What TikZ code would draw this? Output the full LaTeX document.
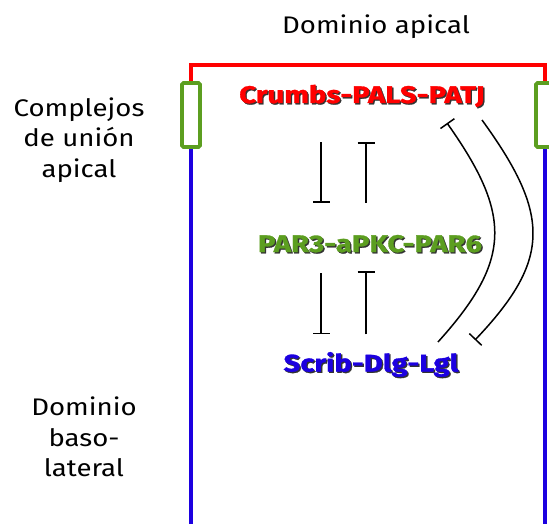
\documentclass[tikz,border=0pt]{standalone}
\usepackage{fontspec}
\setmainfont{Fira Sans}[FakeStretch=1.15,BoldFeatures={FakeStretch=1.22,FakeBold=1.2}]
\usetikzlibrary{arrows.meta}

\definecolor{apired}{RGB}{255,0,0}
\definecolor{junctgreen}{RGB}{92,158,32}
\definecolor{basoblue}{RGB}{28,0,224}

% bold complex name with a small dark drop shadow
\newcommand\shadowtext[2]{%
  \makebox[0pt][l]{\hspace{1.3pt}\raisebox{-1.3pt}{\textcolor{black!80}{#2}}}%
  \textcolor{#1}{#2}}

\begin{document}
\begin{tikzpicture}[x=1pt,y=-1pt,
  membrane/.style={line width=3.6pt},
  junction/.style={junctgreen,line width=3.6pt,rounded corners=1.5pt},
  inhib/.style={-{Bar[width=17pt]},line width=1.5pt},
  sidelabel/.style={font=\fontsize{24}{30.5}\selectfont,align=center,inner sep=0pt},
  complex/.style={font=\bfseries\fontsize{24}{30}\selectfont,inner sep=0pt,
                  text height=18pt,text depth=5pt}]
\useasboundingbox (0,0) rectangle (549,524);
\clip (0,0) rectangle (549,524);

% cell outline: apical (red) and basolateral (blue) membranes
\draw[apired,membrane] (191,84) |- (545,65) -- (545,84);
\draw[basoblue,membrane] (191,146) -- (191,530);
\draw[basoblue,membrane] (545,146) -- (545,530);
% apical junctional complexes
\draw[junction] (182,83) rectangle (200,147);
\draw[junction] (536,83) rectangle (556,147);

% labels
\node[sidelabel] (apical) at (376,27) {Dominio apical};
\node[sidelabel] (ajc) at (79,140) {Complejos\\de unión\\apical};
\node[sidelabel] (baso) at (84,437) {Dominio\\baso-\\lateral};

% polarity complexes
\node[complex] (crumbs) at (362,96.5) {\shadowtext{apired}{Crumbs-PALS-PATJ}};
\node[complex] (par) at (370,245.5) {\shadowtext{junctgreen}{PAR3-aPKC-PAR6}};
\node[complex] (scrib) at (371,365) {\shadowtext{basoblue}{Scrib-Dlg-Lgl}};

% columns for the straight inhibition links
\coordinate (colA) at (321,0);
\coordinate (colB) at (366,0);

\draw[inhib,shorten <=34pt,shorten >=31pt] (crumbs.south -| colA) -- (par.north -| colA);
\draw[inhib,shorten <=31pt,shorten >=34pt] (par.north -| colB) -- (crumbs.south -| colB);
\draw[inhib,shorten <=16pt,shorten >=19pt] (par.south -| colA) -- (scrib.north -| colA);
\draw[inhib,shorten <=19pt,shorten >=14pt] (scrib.north -| colB) -- (par.south -| colB);

% long-range mutual inhibition between Crumbs and Scrib complexes
\coordinate (scribOut) at (438,342);
\coordinate (crumbsIn) at (447,123);
\coordinate (crumbsOut) at (482,120);
\coordinate (scribIn) at (475,340);
\draw[inhib] (scribOut) .. controls (512,260) and (512,215) .. (crumbsIn);
\draw[inhib] (crumbsOut) .. controls (551,215) and (551,260) .. (scribIn);
\end{tikzpicture}
\end{document}
